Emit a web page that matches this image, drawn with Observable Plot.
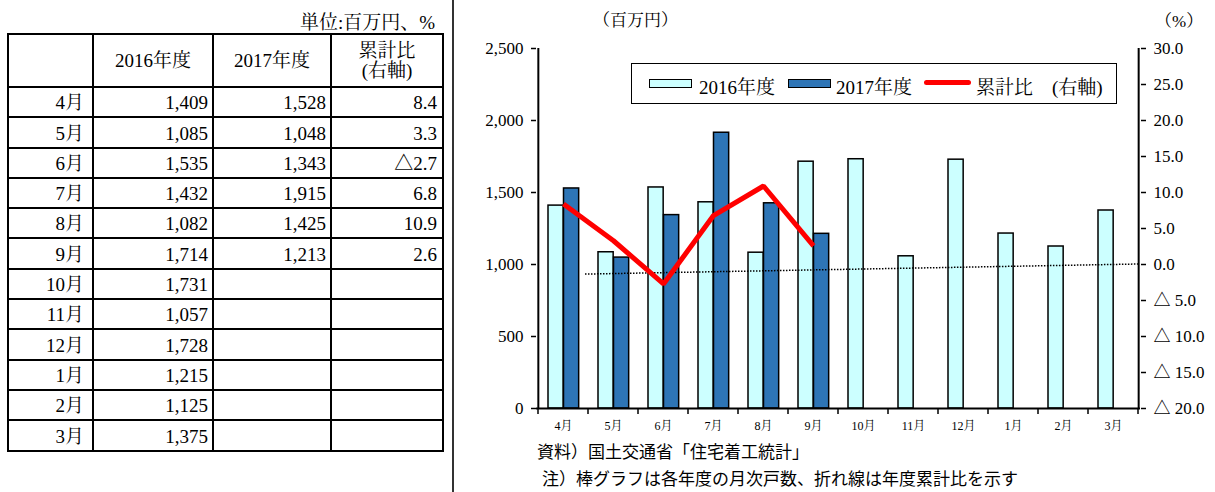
<!DOCTYPE html>
<html>
<head>
<meta charset="utf-8">
<script src="https://cdn.jsdelivr.net/npm/d3@7"></script>
<script src="https://cdn.jsdelivr.net/npm/@observablehq/plot@0.6"></script>
<style>
  html, body { margin: 0; padding: 0; background: #fff; }
  body { width: 1215px; height: 492px; position: relative; overflow: hidden; color: #000; }
  .serif, .serif td, #tbl, #tbl td, #legend, #unit, #ylab, #y2lab {
    font-family: 'Liberation Serif', 'Noto Serif CJK JP', serif; }
  .abs { position: absolute; white-space: nowrap; }
  #unit { right: 780px; top: 7px; font-size: 19px; }
  #tbl { position: absolute; left: 7px; top: 33px; border-collapse: collapse; font-size: 19px; }
  #tbl td { border: 2.5px solid #000; padding: 0; text-align: right; line-height: 1; vertical-align: bottom; padding-bottom: 4px; }
  #tbl tr { height: 30.3px; }
  #tbl tr.head { height: 53px; }
  #tbl tr.head td { text-align: center; line-height: 1.05; vertical-align: middle; padding-bottom: 0; }
  #tbl td.m { padding-right: 8px; }
  #tbl td.v { padding-right: 4px; }
  #tbl td.r { padding-right: 5px; }
  #sep { position: absolute; left: 452px; top: 0; width: 2px; height: 492px; background: #333; }
  #chart { position: absolute; left: 460px; top: 0; }
  #ylab { left: 593px; top: 6px; font-size: 17px; }
  #y2lab { left: 1155px; top: 7px; font-size: 17px; }
  #legend { position: absolute; left: 631px; top: 63px; width: 484px; height: 39px;
            border: 1.5px solid #000; background: #fff; font-size: 19px; }
  .sw { position: absolute; top: 15px; height: 7px; border: 1.3px solid #000; }
  .lt { position: absolute; top: 8px; }
  #src, #note { font-family: 'Noto Sans CJK JP', sans-serif; font-size: 17px; }
  #src { left: 537px; top: 438px; }
  #note { left: 542px; top: 465px; }
</style>
</head>
<body>
<div id="unit" class="abs">単位:百万円、%</div>
<table id="tbl"></table>
<div id="sep"></div>
<div id="chart"></div>
<div id="ylab" class="abs">（百万円）</div>
<div id="y2lab" class="abs">（%）</div>
<div id="legend">
  <div class="sw" style="left:17px;width:41px;background:#CCFFFF"></div>
  <div class="lt" style="left:67px">2016年度</div>
  <div class="sw" style="left:156px;width:41px;background:#2E75B6"></div>
  <div class="lt" style="left:204px">2017年度</div>
  <div style="position:absolute;left:292px;top:16px;width:47px;height:5px;border-radius:3px;background:#FF0000"></div>
  <div class="lt" style="left:344px">累計比</div>
  <div class="lt" style="left:420px">(右軸)</div>
</div>
<div id="src" class="abs">資料）国土交通省「住宅着工統計」</div>
<div id="note" class="abs">注）棒グラフは各年度の月次戸数、折れ線は年度累計比を示す</div>

<script>
// Fiscal-year months (April to March)
const months = ["4月", "5月", "6月", "7月", "8月", "9月", "10月", "11月", "12月", "1月", "2月", "3月"];
// Monthly amounts, million yen
const fy2016 = [1409, 1085, 1535, 1432, 1082, 1714, 1731, 1057, 1728, 1215, 1125, 1375];
const fy2017 = [1528, 1048, 1343, 1915, 1425, 1213];
// Year-to-date ratio, % (right axis)
const cumRatio = [8.4, 3.3, -2.7, 6.8, 10.9, 2.6];
// Axis ticks
const leftTicks = [0, 500, 1000, 1500, 2000, 2500];
const rightTicks = [-20, -15, -10, -5, 0, 5, 10, 15, 20, 25, 30];
// Dotted reference line on the right axis: value at its start and at its end
const guideLine = [-1.4, 0];

const fmtInt = d3.format(",");
const fmtRatio = v => v < 0 ? "△" + Math.abs(v).toFixed(1) : v.toFixed(1);
const fmtRatioAxis = v => v < 0 ? "△ " + Math.abs(v).toFixed(1) : v.toFixed(1);

// ---- Table ----
const tbl = document.getElementById("tbl");
const colW = [83, 118, 116, 110];
let html = `<tr class="head"><td style="width:${colW[0]}px"></td>` +
  `<td style="width:${colW[1]}px">2016年度</td>` +
  `<td style="width:${colW[2]}px">2017年度</td>` +
  `<td style="width:${colW[3]}px">累計比<br>(右軸)</td></tr>`;
months.forEach((m, i) => {
  html += `<tr><td class="m">${m}</td>` +
    `<td class="v">${fmtInt(fy2016[i])}</td>` +
    `<td class="v">${fy2017[i] != null ? fmtInt(fy2017[i]) : ""}</td>` +
    `<td class="r">${cumRatio[i] != null ? fmtRatio(cumRatio[i]) : ""}</td></tr>`;
});
tbl.innerHTML = html;

// ---- Chart ----
const W = 755, H = 440, mL = 76, mR = 75, mT = 48, mB = 32;
const bw = (W - mL - mR) / months.length;   // band width per month
const barW = 15.5, barPad = 10;
const yMax = 2500, rMin = -20, rMax = 30;
// right-axis value -> left-axis units
const toLeft = v => (v - rMin) / (rMax - rMin) * yMax;
const fromLeft = y => y / yMax * (rMax - rMin) + rMin;

const rows2016 = months.map((m, i) => ({month: m, value: fy2016[i]}));
const rows2017 = fy2017.map((v, i) => ({month: months[i], value: v}));
const rowsRatio = cumRatio.map((v, i) => ({month: months[i], value: v}));

const serif = "'Liberation Serif', 'Noto Serif CJK JP', serif";

// band-edge tick marks under the x axis plus the dotted guide
function extras(index, scales, values, dims) {
  const ns = "http://www.w3.org/2000/svg";
  const g = document.createElementNS(ns, "g");
  const xs = scales.x, ys = scales.y;
  const bandw = xs.bandwidth ? xs.bandwidth() : bw;
  const y0 = ys(0);
  const edges = months.map(m => xs(m)).concat([xs(months[months.length - 1]) + bandw]);
  for (const x of edges) {
    const l = document.createElementNS(ns, "line");
    l.setAttribute("x1", x); l.setAttribute("x2", x);
    l.setAttribute("y1", y0); l.setAttribute("y2", y0 + 6);
    l.setAttribute("stroke", "#000"); l.setAttribute("stroke-width", 1.5);
    g.appendChild(l);
  }
  const d = document.createElementNS(ns, "line");
  d.setAttribute("x1", xs("5月") - 3);
  d.setAttribute("x2", xs(months[months.length - 1]) + bandw);
  d.setAttribute("y1", ys(toLeft(guideLine[0])));
  d.setAttribute("y2", ys(toLeft(guideLine[1])));
  d.setAttribute("stroke", "#000"); d.setAttribute("stroke-width", 1.5);
  d.setAttribute("stroke-dasharray", "1.5,1.5");
  g.appendChild(d);
  return g;
}

const chart = Plot.plot({
  width: W, height: H,
  marginLeft: mL, marginRight: mR, marginTop: mT, marginBottom: mB,
  style: {fontFamily: serif, fontSize: "17px", color: "#000", background: "transparent", overflow: "visible"},
  x: {type: "band", domain: months, padding: 0, label: null},
  y: {domain: [0, yMax], label: null},
  marks: [
    Plot.barY(rows2016, {x: "month", y: "value", fill: "#CCFFFF", stroke: "#000", strokeWidth: 1.5,
      insetLeft: barPad, insetRight: bw - barPad - barW}),
    Plot.barY(rows2017, {x: "month", y: "value", fill: "#2E75B6", stroke: "#000", strokeWidth: 1.5,
      insetLeft: barPad + barW, insetRight: bw - barPad - 2 * barW}),
    extras,
    Plot.line(rowsRatio, {x: "month", y: d => toLeft(d.value), stroke: "#FF0000", strokeWidth: 5,
      strokeLinejoin: "miter", strokeLinecap: "butt"}),
    Plot.ruleY([0], {stroke: "#000", strokeWidth: 2}),
    Plot.ruleX([months[0]], {dx: -bw / 2, y1: 0, y2: yMax, stroke: "#000", strokeWidth: 2}),
    Plot.ruleX([months[months.length - 1]], {dx: bw / 2, y1: 0, y2: yMax, stroke: "#000", strokeWidth: 2}),
    Plot.axisY({ticks: leftTicks, tickFormat: fmtInt, tickSize: 5, tickPadding: 8, strokeWidth: 1.5,
      fontSize: 17, label: null}),
    Plot.axisY({anchor: "right", ticks: rightTicks.map(toLeft), tickFormat: y => fmtRatioAxis(fromLeft(y)),
      tickSize: 5, tickPadding: 8, strokeWidth: 1.5, fontSize: 17, label: null}),
    Plot.axisX({tickSize: 0, tickPadding: 13, fontSize: 12, label: null})
  ]
});
// keep every text of the chart in the serif face
chart.querySelectorAll("text").forEach(t => t.setAttribute("font-family", serif));
document.getElementById("chart").appendChild(chart);
</script>
</body>
</html>
